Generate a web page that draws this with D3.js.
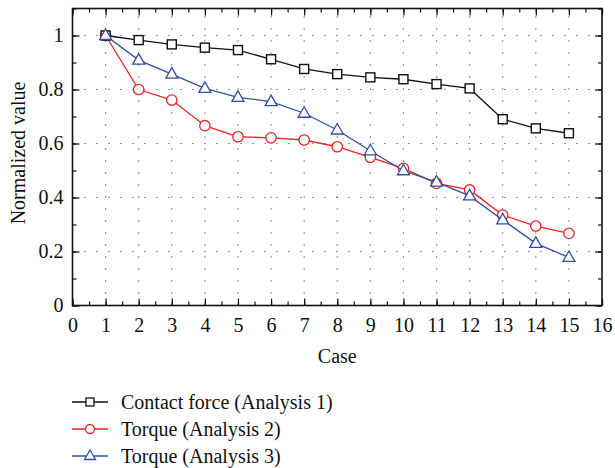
<!DOCTYPE html>
<html>
<head>
<meta charset="utf-8">
<script src="https://cdn.jsdelivr.net/npm/d3@7"></script>
<style>
  body { margin: 0; background: #fff; }
  text { font-family: "Liberation Serif", "Times New Roman", serif; fill: #111; }
</style>
</head>
<body>
<svg id="chart" width="615" height="468"></svg>
<script>
// case numbers on x
var cases = [1,2,3,4,5,6,7,8,9,10,11,12,13,14,15];

// normalized values
var contactForce = [1.0, 0.983, 0.967, 0.955, 0.946, 0.912, 0.876, 0.857, 0.845, 0.838, 0.820, 0.804, 0.690, 0.656, 0.638];
var torque2      = [1.0, 0.800, 0.761, 0.666, 0.625, 0.621, 0.613, 0.588, 0.549, 0.508, 0.452, 0.428, 0.335, 0.294, 0.267];
var torque3      = [1.0, 0.909, 0.857, 0.804, 0.771, 0.755, 0.712, 0.650, 0.573, 0.499, 0.457, 0.406, 0.317, 0.230, 0.178];

var xTicks = d3.range(0, 17, 1);
var yTicks = [0, 0.2, 0.4, 0.6, 0.8, 1];

var seriesNames  = ["Contact force (Analysis 1)", "Torque (Analysis 2)", "Torque (Analysis 3)"];
var seriesColors = ["#111111", "#ec2227", "#2f4f9f"];
var seriesShapes = ["square", "circle", "triangle"];
var seriesValues = [contactForce, torque2, torque3];

var svg = d3.select("#chart");
var fontSize = 20;
// note: "top" is reserved on window, so use plot* names
var plotL = 72.5, plotR = 602, plotT = 8.5, plotB = 305.5;

var x = d3.scaleLinear().domain([0, 16]).range([plotL, plotR]);
var y = d3.scaleLinear().domain([0, 1.1]).range([plotB, plotT]);

// dotted grid
var grid = svg.append("g").attr("class", "grid");
grid.selectAll("line.vg").data(d3.range(1, 16)).enter().append("line")
    .attr("x1", function(d){ return x(d); }).attr("x2", function(d){ return x(d); })
    .attr("y1", plotB).attr("y2", plotT)
    .attr("stroke", "#333").attr("stroke-width", 1.1).attr("stroke-dasharray", "1,11");
grid.selectAll("line.hg").data([0.2, 0.4, 0.6, 0.8, 1]).enter().append("line")
    .attr("y1", function(d){ return y(d); }).attr("y2", function(d){ return y(d); })
    .attr("x1", plotL).attr("x2", plotR)
    .attr("stroke", "#333").attr("stroke-width", 1.1).attr("stroke-dasharray", "1,11");

// axes (ticks inward, box on all sides)
var xMinor = d3.range(0, 16.01, 0.5);
var yMinor = d3.range(0, 1.101, 0.1);

function styleLabels(g) {
  g.select(".domain").remove();
  g.selectAll("text").attr("font-size", fontSize).attr("fill", "#111")
    .attr("font-family", "Liberation Serif, serif");
}
function noDomain(g) { g.select(".domain").remove(); }

svg.append("g").attr("transform", "translate(0," + plotB + ")")
  .call(d3.axisBottom(x).tickValues(xMinor).tickSize(-4).tickFormat("")).call(noDomain);
svg.append("g").attr("transform", "translate(0," + plotB + ")")
  .call(d3.axisBottom(x).tickValues(xTicks).tickSize(-7).tickPadding(12).tickFormat(d3.format("d")))
  .call(styleLabels);

svg.append("g").attr("transform", "translate(0," + plotT + ")")
  .call(d3.axisTop(x).tickValues(xMinor).tickSize(-4).tickFormat("")).call(noDomain);
svg.append("g").attr("transform", "translate(0," + plotT + ")")
  .call(d3.axisTop(x).tickValues(xTicks).tickSize(-7).tickFormat("")).call(noDomain);

svg.append("g").attr("transform", "translate(" + plotL + ",0)")
  .call(d3.axisLeft(y).tickValues(yMinor).tickSize(-4).tickFormat("")).call(noDomain);
svg.append("g").attr("transform", "translate(" + plotL + ",0)")
  .call(d3.axisLeft(y).tickValues(yTicks).tickSize(-7).tickPadding(9)
    .tickFormat(function(d){ return d === 0 || d === 1 ? d : d.toFixed(1); }))
  .call(styleLabels);

svg.append("g").attr("transform", "translate(" + plotR + ",0)")
  .call(d3.axisRight(y).tickValues(yMinor).tickSize(-4).tickFormat("")).call(noDomain);
svg.append("g").attr("transform", "translate(" + plotR + ",0)")
  .call(d3.axisRight(y).tickValues(yTicks).tickSize(-7).tickFormat("")).call(noDomain);

svg.selectAll(".tick line").attr("stroke", "#111").attr("stroke-width", 1.2);

svg.append("rect").attr("x", plotL).attr("y", plotT)
  .attr("width", plotR - plotL).attr("height", plotB - plotT)
  .attr("fill", "none").attr("stroke", "#111").attr("stroke-width", 1.6);

// axis titles
svg.append("text").attr("x", x(8)).attr("y", 363).attr("text-anchor", "middle")
  .attr("font-size", fontSize).text("Case");
svg.append("text").attr("transform", "translate(25,153) rotate(-90)")
  .attr("text-anchor", "middle").attr("font-size", fontSize).text("Normalized value");

// markers
function drawMarker(g, shape, color, cx, cy) {
  if (shape == "square") {
    g.append("rect").attr("x", cx - 4.5).attr("y", cy - 4.5).attr("width", 9).attr("height", 9)
      .attr("fill", "#fff").attr("stroke", color).attr("stroke-width", 1.4);
  } else if (shape == "circle") {
    g.append("circle").attr("cx", cx).attr("cy", cy).attr("r", 5.2)
      .attr("fill", "#fff").attr("stroke", color).attr("stroke-width", 1.3);
  } else {
    g.append("path")
      .attr("d", "M" + cx + "," + (cy - 6.5) + "L" + (cx + 6) + "," + (cy + 4) + "L" + (cx - 6) + "," + (cy + 4) + "Z")
      .attr("fill", "#fff").attr("stroke", color).attr("stroke-width", 1.3);
  }
}

var line = d3.line()
  .x(function(d, i){ return x(cases[i]); })
  .y(function(d){ return y(d); });

// draw order: red, black, blue (blue triangle on top at case 1)
var order = [1, 0, 2];
order.forEach(function(k) {
  var g = svg.append("g");
  g.append("path").datum(seriesValues[k]).attr("d", line)
    .attr("fill", "none").attr("stroke", seriesColors[k]).attr("stroke-width", 1.3);
  seriesValues[k].forEach(function(v, i) {
    drawMarker(g, seriesShapes[k], seriesColors[k], x(cases[i]), y(v));
  });
});

// legend
var legend = svg.append("g");
seriesNames.forEach(function(name, i) {
  var ly = 402 + i * 27;
  legend.append("line").attr("x1", 72).attr("x2", 108).attr("y1", ly).attr("y2", ly)
    .attr("stroke", seriesColors[i]).attr("stroke-width", 1.3);
  var g = legend.append("g");
  if (seriesShapes[i] == "square") {
    g.append("rect").attr("x", 86).attr("y", ly - 4).attr("width", 8).attr("height", 8)
      .attr("fill", "#fff").attr("stroke", seriesColors[i]).attr("stroke-width", 1.3);
  } else if (seriesShapes[i] == "circle") {
    g.append("circle").attr("cx", 90).attr("cy", ly).attr("r", 4.5)
      .attr("fill", "#fff").attr("stroke", seriesColors[i]).attr("stroke-width", 1.3);
  } else {
    g.append("path").attr("d", "M90," + (ly - 6) + "L95.5," + (ly + 3.5) + "L84.5," + (ly + 3.5) + "Z")
      .attr("fill", "#fff").attr("stroke", seriesColors[i]).attr("stroke-width", 1.3);
  }
  legend.append("text").attr("x", 121).attr("y", ly + 7).attr("font-size", fontSize).text(name);
});
</script>
</body>
</html>
